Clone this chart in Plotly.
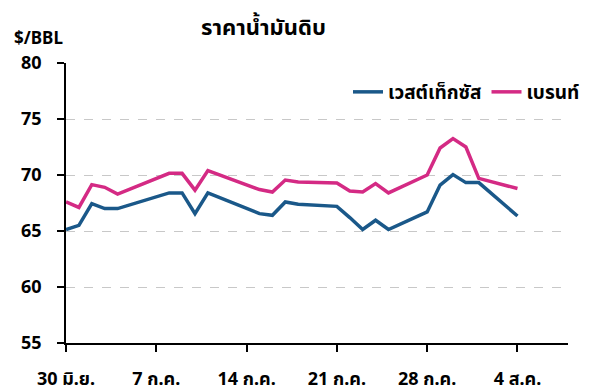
import plotly.graph_objects as go

dates = ["2024-06-30", "2024-07-01", "2024-07-02", "2024-07-03", "2024-07-04",
         "2024-07-08", "2024-07-09", "2024-07-10", "2024-07-11",
         "2024-07-15", "2024-07-16", "2024-07-17", "2024-07-18",
         "2024-07-21", "2024-07-22", "2024-07-23", "2024-07-24", "2024-07-25",
         "2024-07-28", "2024-07-29", "2024-07-30", "2024-07-31", "2024-08-01",
         "2024-08-04"]
wti = [65.13, 65.5, 67.44, 67.0, 67.0,
       68.4, 68.4, 66.55, 68.4,
       66.55, 66.4, 67.59, 67.38,
       67.2, 66.2, 65.13, 65.96, 65.13,
       66.7, 69.1, 70.04, 69.32, 69.32,
       66.34]
brent = [67.6, 67.1, 69.14, 68.9, 68.3,
         70.15, 70.15, 68.65, 70.4,
         68.7, 68.48, 69.55, 69.38,
         69.29, 68.57, 68.48, 69.23, 68.4,
         70.0, 72.41, 73.25, 72.5, 69.7,
         68.79]

tick_vals = ["2024-06-30", "2024-07-07", "2024-07-14", "2024-07-21", "2024-07-28", "2024-08-04"]
tick_text = ["30 มิ.ย.", "7 ก.ค.", "14 ก.ค.", "21 ก.ค.", "28 ก.ค.", "4 ส.ค."]
y_ticks = [55, 60, 65, 70, 75, 80]

FONT = "Noto Sans, Noto Sans Thai, sans-serif"

# page body has an 8px default margin; the figure is sized to fill the window exactly
OFF = 8
W, H = 600 - OFF, 389 - OFF
L, R, T, B = 66 - OFF, 600 - 568, 63 - OFF, 389 - 343
PW, PH = W - L - R, H - T - B


def px_to_paper(px, py):
    # px, py are screen pixels of the reference
    fx, fy = px - OFF, py - OFF
    return (fx - L) / PW, (H - B - fy) / PH


fig = go.Figure()
fig.add_trace(go.Scatter(x=dates, y=wti, mode="lines", name="เวสต์เท็กซัส",
                         line=dict(color="#1A5889", width=3.5)))
fig.add_trace(go.Scatter(x=dates, y=brent, mode="lines", name="เบรนท์",
                         line=dict(color="#D42A84", width=3.5)))

tx, ty = px_to_paper(263, 26)
bx, by = px_to_paper(12, 37)
lx, ly = px_to_paper(585, 92)

fig.update_layout(
    width=W, height=H,
    margin=dict(l=L, r=R, t=T, b=B, autoexpand=False),
    paper_bgcolor="white", plot_bgcolor="white",
    font=dict(family=FONT, color="black"),
    showlegend=True,
    legend=dict(orientation="h", x=lx, xanchor="right", y=ly, yanchor="middle",
                font=dict(size=19, weight="bold"), bgcolor="rgba(0,0,0,0)",
                itemwidth=30, tracegroupgap=0),
    annotations=[
        dict(text="ราคาน้ำมันดิบ", x=tx, y=ty, xref="paper", yref="paper",
             xanchor="center", yanchor="middle",
             showarrow=False, font=dict(size=22, weight="bold")),
        dict(text="$/BBL", x=bx, y=by, xref="paper", yref="paper",
             xanchor="left", yanchor="middle", showarrow=False,
             font=dict(size=17, weight="bold")),
    ],
)

fig.update_xaxes(
    type="date", range=["2024-06-30", "2024-08-07 22:00"],
    tickvals=tick_vals, ticktext=tick_text, automargin=False,
    showgrid=False, showline=True, linecolor="black", linewidth=1.5,
    ticks="outside", ticklen=7, tickwidth=1.5, tickcolor="black",
    tickfont=dict(size=18, weight="bold"), ticklabelstandoff=12,
)
fig.update_yaxes(
    range=[55, 80], tickvals=y_ticks, automargin=False,
    showgrid=True, gridcolor="#C8C8C8", griddash="dash", gridwidth=1,
    showline=True, linecolor="black", linewidth=1.5,
    ticks="outside", ticklen=7, tickwidth=1.5, tickcolor="black",
    tickfont=dict(size=18, weight="bold"), ticklabelstandoff=12,
    zeroline=False,
)

fig.write_html("out.html")
